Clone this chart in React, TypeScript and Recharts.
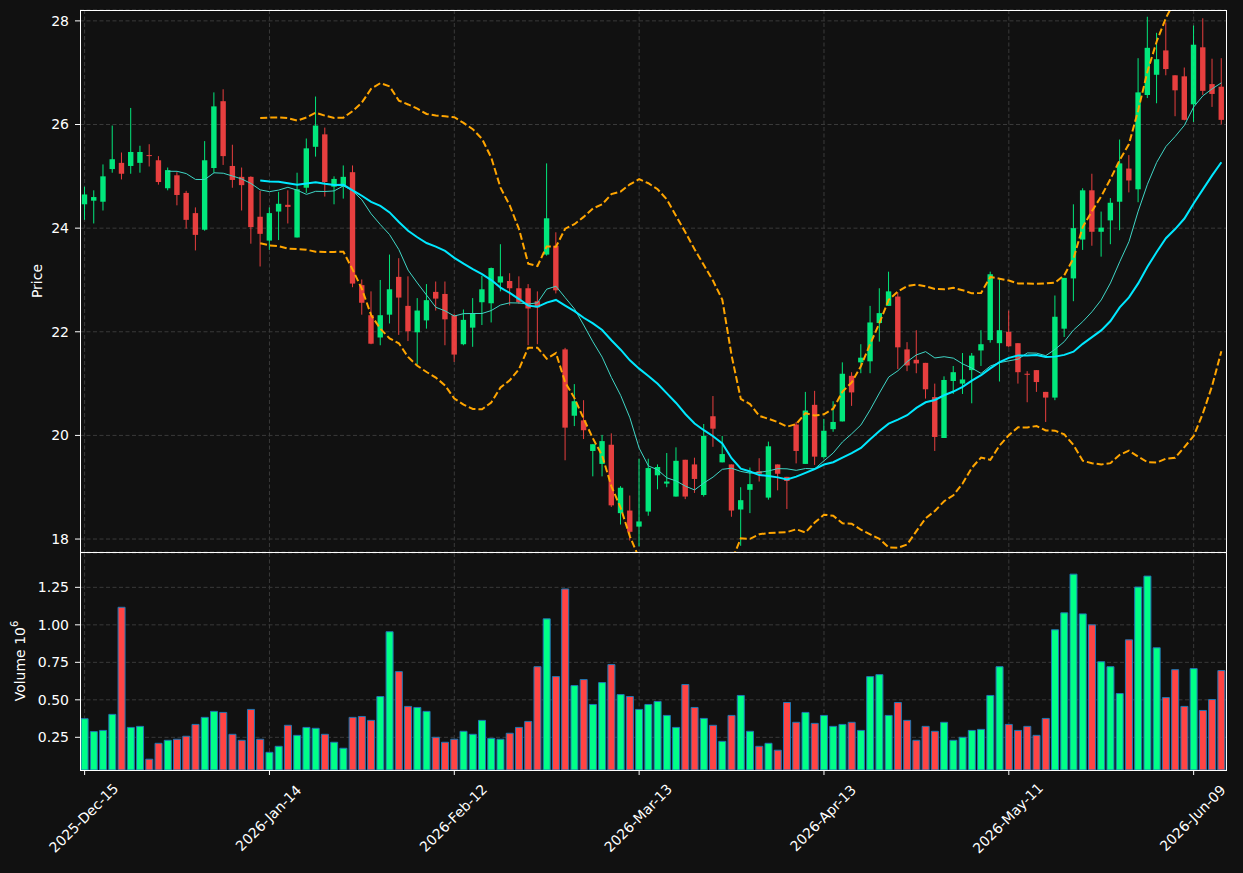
import {
  ComposedChart,
  Bar,
  Line,
  XAxis,
  YAxis,
  CartesianGrid,
  Cell,
} from "recharts";

// trading days shown on the x axis (market holidays left out)
const monthDays: [string, number[]][] = [
  ["2025-Dec", [15, 16, 17, 18, 19, 22, 23, 24, 26, 29, 30, 31]],
  ["2026-Jan", [2, 5, 6, 7, 8, 9, 12, 13, 14, 15, 16, 20, 21, 22, 23, 26, 27, 28, 29, 30]],
  ["2026-Feb", [2, 3, 4, 5, 6, 9, 10, 11, 12, 13, 17, 18, 19, 20, 23, 24, 25, 26, 27]],
  ["2026-Mar", [2, 3, 4, 5, 6, 9, 10, 11, 12, 13, 16, 17, 18, 19, 20, 23, 24, 25, 26, 27, 30, 31]],
  ["2026-Apr", [1, 2, 6, 7, 8, 9, 10, 13, 14, 15, 16, 17, 20, 21, 22, 23, 24, 27, 28, 29, 30]],
  ["2026-May", [1, 4, 5, 6, 7, 8, 11, 12, 13, 14, 15, 18, 19, 20, 21, 22, 26, 27, 28, 29]],
  ["2026-Jun", [1, 2, 3, 4, 5, 8, 9, 10, 11, 12]],
];

const dates = monthDays.flatMap(([m, days]) =>
  days.map((d) => `${m}-${String(d).padStart(2, "0")}`)
);

const open = [
  24.46, 24.53, 24.51, 25.14, 25.26, 25.2, 25.26, 25.41, 25.31, 24.77,
  25.02, 24.68, 24.29, 23.97, 25.16, 26.45, 25.2, 24.99, 24.99, 24.22,
  23.76, 24.32, 24.45, 23.82, 24.78, 25.57, 25.81, 24.8, 24.8, 25.08,
  22.9, 22.32, 21.89, 22.33, 23.06, 22.5, 21.99, 22.22, 22.77, 22.73,
  22.32, 21.76, 22.08, 22.57, 22.55, 22.95, 22.98, 22.84, 22.84, 22.59,
  23.49, 23.66, 21.66, 20.38, 20.29, 19.7, 19.45, 19.82, 18.5, 18.55,
  18.24, 18.53, 19.23, 19.07, 18.82, 19.53, 19.44, 18.85, 20.37, 19.48,
  19.44, 18.57, 18.95, 19.31, 18.8, 19.44, 19.2, 20.21, 19.45, 20.59,
  19.58, 20.12, 20.27, 21.15, 21.41, 21.43, 22.17, 22.5, 22.68, 21.66,
  21.46, 21.4, 20.74, 19.95, 21.05, 21.0, 21.26, 21.64, 21.84, 21.78,
  22.0, 21.78, 21.19, 21.26, 20.84, 20.73, 22.06, 23.03, 23.78, 24.73,
  23.93, 24.15, 24.51, 25.15, 24.75, 26.57, 26.96, 27.43, 26.95, 26.93,
  26.39, 27.49, 26.78, 26.73,
];

const high = [
  24.8, 24.73, 25.23, 25.98, 25.46, 26.32, 25.59, 25.62, 25.39, 25.17,
  25.08, 24.72, 24.4, 25.68, 26.62, 26.68, 25.61, 25.17, 25.0, 24.72,
  24.4, 24.7, 24.73, 25.07, 25.73, 26.54, 25.94, 25.0, 25.21, 25.21,
  23.01, 22.78, 23.0, 23.49, 23.42, 23.07, 22.65, 22.92, 22.97, 22.97,
  22.35, 22.43, 22.65, 23.08, 23.24, 23.69, 23.13, 23.07, 22.92, 22.78,
  25.25, 23.92, 21.69, 20.99, 20.68, 19.83, 20.01, 20.04, 19.02, 18.84,
  19.55, 19.55, 19.44, 19.66, 19.77, 19.53, 19.57, 20.22, 20.76, 19.99,
  19.44, 19.0, 19.38, 19.56, 19.88, 19.44, 19.2, 20.26, 20.84, 20.86,
  20.32, 20.66, 21.41, 21.22, 21.76, 22.5, 22.84, 23.16, 22.76, 21.8,
  22.03, 21.4, 21.0, 21.14, 21.34, 21.59, 21.59, 22.03, 23.16, 23.03,
  22.41, 21.78, 21.24, 21.26, 20.84, 22.7, 23.04, 24.46, 24.77, 25.05,
  24.32, 24.58, 25.71, 25.41, 27.28, 28.08, 27.77, 27.97, 26.95, 27.1,
  27.91, 28.05, 27.27, 27.28,
];

const low = [
  24.16, 24.09, 24.34, 25.07, 24.94, 25.05, 25.07, 25.19, 24.84, 24.73,
  24.44, 23.99, 23.57, 23.95, 25.07, 25.22, 24.78, 24.34, 23.7, 23.26,
  23.58, 23.77, 24.09, 23.82, 24.68, 25.38, 24.61, 24.46, 24.57, 22.86,
  22.33, 21.76, 21.74, 22.16, 21.94, 21.82, 21.37, 22.06, 22.41, 21.74,
  21.42, 21.74, 21.71, 22.13, 22.18, 22.78, 22.51, 22.54, 21.74, 21.76,
  23.47, 22.74, 19.52, 20.18, 19.93, 19.21, 19.21, 18.62, 18.28, 17.97,
  17.86, 18.45, 18.96, 19.0, 18.82, 18.77, 18.89, 18.82, 19.78, 19.48,
  18.43, 17.87, 18.5, 19.11, 18.76, 18.94, 18.58, 19.46, 19.45, 19.43,
  19.55, 20.07, 20.27, 20.57, 21.2, 21.2, 21.81, 22.5, 21.28, 21.24,
  21.2, 20.71, 19.7, 19.95, 20.8, 20.8, 20.62, 21.34, 21.79, 21.04,
  21.7, 21.0, 20.64, 20.84, 20.26, 20.68, 21.9, 22.59, 23.58, 23.66,
  23.45, 23.69, 23.96, 24.69, 24.5, 26.51, 26.41, 26.95, 26.16, 26.08,
  26.05, 26.57, 26.34, 26.0,
];

const close = [
  24.65, 24.6, 25.0, 25.33, 25.05, 25.47, 25.47, 25.4, 24.89, 25.12,
  24.64, 24.16, 23.87, 25.31, 26.35, 25.39, 24.93, 24.83, 24.02, 23.89,
  24.29, 24.47, 24.41, 24.75, 25.54, 25.98, 24.89, 24.95, 24.99, 22.93,
  22.56, 21.77, 22.32, 22.82, 22.66, 22.01, 22.41, 22.61, 22.64, 22.24,
  21.56, 22.23, 22.35, 22.82, 23.23, 23.07, 22.84, 22.57, 22.45, 22.47,
  24.19, 22.8, 20.15, 20.66, 20.1, 19.83, 19.89, 18.65, 18.99, 18.14,
  18.34, 19.37, 19.39, 19.11, 19.51, 18.82, 19.16, 19.99, 20.13, 19.64,
  18.55, 18.75, 19.06, 19.26, 19.79, 19.26, 19.12, 19.7, 20.48, 19.59,
  20.09, 20.26, 21.19, 20.83, 21.5, 22.18, 22.36, 22.78, 21.7, 21.35,
  21.39, 20.89, 19.97, 21.07, 21.22, 21.08, 21.54, 21.76, 23.11, 22.03,
  21.72, 21.22, 21.17, 21.03, 20.73, 22.29, 23.04, 24.0, 24.73, 23.93,
  24.01, 24.49, 25.25, 24.92, 26.62, 27.48, 27.26, 27.07, 26.66, 26.09,
  27.54, 26.65, 26.59, 26.09,
];

// volume in millions of shares
const volume = [
  0.374, 0.288, 0.296, 0.403, 1.117, 0.316, 0.323, 0.104, 0.21, 0.23,
  0.237, 0.257, 0.336, 0.383, 0.423, 0.416, 0.27, 0.23, 0.436, 0.237,
  0.15, 0.19, 0.33, 0.263, 0.316, 0.31, 0.27, 0.217, 0.177, 0.383,
  0.389, 0.363, 0.522, 0.954, 0.688, 0.456, 0.449, 0.423, 0.25, 0.217,
  0.237, 0.29, 0.27, 0.363, 0.243, 0.237, 0.277, 0.316, 0.356, 0.721,
  1.04, 0.655, 1.239, 0.595, 0.635, 0.469, 0.615, 0.735, 0.535, 0.522,
  0.436, 0.469, 0.489, 0.396, 0.316, 0.602, 0.449, 0.376, 0.33, 0.223,
  0.396, 0.529, 0.29, 0.19, 0.21, 0.164, 0.482, 0.35, 0.416, 0.343,
  0.396, 0.323, 0.336, 0.35, 0.296, 0.655, 0.668, 0.396, 0.482, 0.363,
  0.23, 0.323, 0.29, 0.35, 0.23, 0.25, 0.296, 0.303, 0.529, 0.721,
  0.336, 0.296, 0.323, 0.263, 0.376, 0.967, 1.08, 1.338, 1.073, 1.0,
  0.754, 0.721, 0.542, 0.9, 1.252, 1.325, 0.847, 0.515, 0.701, 0.456,
  0.708, 0.429, 0.502, 0.695,
];

const priceTicks = [18, 20, 22, 24, 26, 28];
const volumeTicks = [0.25, 0.5, 0.75, 1.0, 1.25];

const GREEN = "#00ff88";
const RED = "#ff4444";
const GRID = "#3a3a3a";
const BAND = "#ffa500";
const FONT = "DejaVu Sans, sans-serif";

// moving average and bollinger band of the closes
const sma = (arr: number[], n: number) =>
  arr.map((_, i) =>
    i < n - 1 ? null : arr.slice(i - n + 1, i + 1).reduce((a, b) => a + b, 0) / n
  );
const ma10 = sma(close, 10);
const ma20 = sma(close, 20);
const sd20 = close.map((_, i) => {
  if (i < 19) return null;
  const m = ma20[i] as number;
  const w = close.slice(i - 19, i + 1);
  return Math.sqrt(w.reduce((a, v) => a + (v - m) ** 2, 0) / 20);
});

const data = dates.map((date, i) => ({
  date,
  open: open[i],
  high: high[i],
  low: low[i],
  close: close[i],
  range: [low[i], high[i]],
  vol: volume[i],
  up: close[i] >= open[i],
  ma10: ma10[i],
  ma20: ma20[i],
  bbUp: ma20[i] == null ? null : (ma20[i] as number) + 2 * (sd20[i] as number),
  bbLo: ma20[i] == null ? null : (ma20[i] as number) - 2 * (sd20[i] as number),
}));

// vertical grid lines sit on the labelled dates (every 20th session)
const gridIdx = dates.map((_, i) => i).filter((i) => i % 20 === 0);

const verticalGrid = (props: any) => {
  const off = props && props.offset;
  if (!off) return [];
  // centre of each category band on the x axis
  return gridIdx.map((i) => off.left + ((i + 0.5) * off.width) / dates.length);
};

const Candle = (props: any) => {
  const { x, y, width, height, payload } = props;
  if (x == null || y == null) return null;
  const top = Math.min(y, y + height);
  const h = Math.abs(height);
  const { open: o, close: c, high: hi, low: lo } = payload;
  const color = c >= o ? GREEN : RED;
  const span = hi - lo || 1;
  const py = (v: number) => top + ((hi - v) / span) * h;
  const cx = x + width / 2;
  const bTop = py(Math.max(o, c));
  const bBot = py(Math.min(o, c));
  const bw = width * 0.6;
  return (
    <g opacity={0.9}>
      <line x1={cx} x2={cx} y1={top} y2={top + h} stroke={color} strokeWidth={1} />
      <rect x={cx - bw / 2} y={bTop} width={bw} height={Math.max(bBot - bTop, 1)} fill={color} />
    </g>
  );
};

const DateTick = (props: any) => {
  const { x, y, payload } = props;
  return (
    <g transform={`translate(${x - 1},${y + 43})`}>
      <text
        transform="rotate(-45)"
        textAnchor="middle"
        dominantBaseline="central"
        fill="#fff"
        fontSize={14}
        fontFamily={FONT}
      >
        {payload.value}
      </text>
    </g>
  );
};

const tickStyle = { fill: "#fff", fontSize: 14, fontFamily: FONT };

const App = () => {
  return (
    <div
      style={{
        position: "absolute",
        left: 0,
        top: 0,
        width: 1243,
        height: 873,
        background: "#111111",
        overflow: "hidden",
      }}
    >
      <div style={{ position: "absolute", left: 0, top: 0 }}>
        <ComposedChart
          width={1243}
          height={553}
          data={data}
          margin={{ top: 10, right: 17, bottom: 1, left: 0 }}
          barCategoryGap={0}
          barGap={0}
        >
          <CartesianGrid
            stroke={GRID}
            strokeDasharray="4 2.5"
            verticalCoordinatesGenerator={verticalGrid}
          />
          <XAxis dataKey="date" hide />
          <YAxis
            type="number"
            domain={[17.75, 28.21]}
            allowDataOverflow
            ticks={priceTicks}
            interval={0}
            width={80}
            axisLine={false}
            tickLine={{ stroke: "#fff" }}
            tickSize={5}
            tickMargin={6}
            tick={tickStyle}
            label={() => (
              <text
                transform="translate(37,281) rotate(-90)"
                textAnchor="middle"
                dominantBaseline="central"
                fill="#fff"
                fontSize={14}
                fontFamily={FONT}
              >
                Price
              </text>
            )}
          />
          <Bar dataKey="range" shape={<Candle />} isAnimationActive={false} />
          <Line dataKey="bbUp" stroke={BAND} strokeWidth={2} strokeDasharray="7 3" dot={false} isAnimationActive={false} />
          <Line dataKey="bbLo" stroke={BAND} strokeWidth={2} strokeDasharray="7 3" dot={false} isAnimationActive={false} />
          <Line dataKey="ma10" stroke="#3fd6c6" strokeWidth={1} dot={false} isAnimationActive={false} />
          <Line dataKey="ma20" stroke="#00e8ff" strokeWidth={2} dot={false} isAnimationActive={false} />
        </ComposedChart>
      </div>

      <div style={{ position: "absolute", left: 0, top: 553 }}>
        <ComposedChart
          width={1243}
          height={320}
          data={data}
          margin={{ top: 0, right: 17, bottom: 0, left: 0 }}
          barCategoryGap="12%"
        >
          <CartesianGrid
            stroke={GRID}
            strokeDasharray="4 2.5"
            verticalCoordinatesGenerator={verticalGrid}
          />
          <XAxis
            dataKey="date"
            interval={19}
            height={103}
            axisLine={false}
            tickLine={{ stroke: "#fff" }}
            tickSize={5}
            tickMargin={0}
            tick={(p: any) => <DateTick {...p} />}
          />
          <YAxis
            type="number"
            domain={[0.032, 1.479]}
            allowDataOverflow
            ticks={volumeTicks}
            interval={0}
            width={80}
            axisLine={false}
            tickLine={{ stroke: "#fff" }}
            tickSize={5}
            tickMargin={6}
            tick={tickStyle}
            tickFormatter={(v: number) => v.toFixed(2)}
            label={() => (
              <text
                transform="translate(20,108) rotate(-90)"
                textAnchor="middle"
                dominantBaseline="central"
                fill="#fff"
                fontSize={14}
                fontFamily={FONT}
              >
                Volume{"  "}10<tspan dy={-6} fontSize={10}>6</tspan>
              </text>
            )}
          />
          <Bar dataKey="vol" stroke="#1f77b4" strokeWidth={1} isAnimationActive={false}>
            {data.map((d, i) => (
              <Cell key={i} fill={d.up ? GREEN : RED} />
            ))}
          </Bar>
        </ComposedChart>
      </div>

      {/* panel frames */}
      <div
        style={{
          position: "absolute",
          left: 80,
          top: 10,
          width: 1147,
          height: 543,
          boxSizing: "border-box",
          border: "1px solid #fff",
          pointerEvents: "none",
        }}
      />
      <div
        style={{
          position: "absolute",
          left: 80,
          top: 552,
          width: 1147,
          height: 219,
          boxSizing: "border-box",
          border: "1px solid #fff",
          pointerEvents: "none",
        }}
      />
    </div>
  );
};

export default App;
